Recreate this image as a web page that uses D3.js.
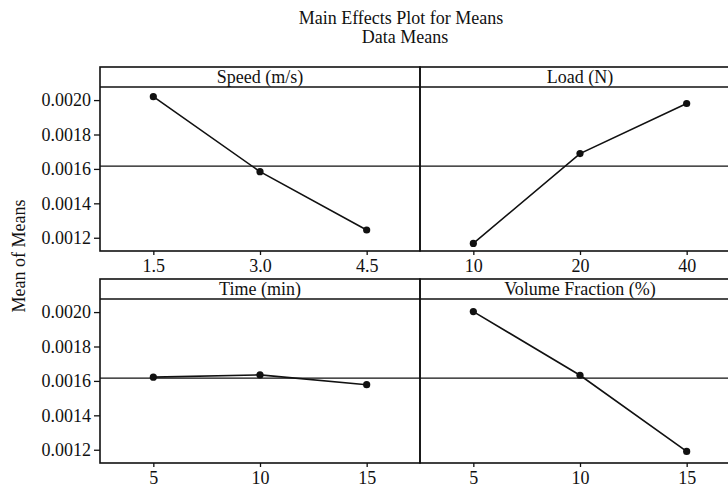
<!DOCTYPE html>
<html>
<head>
<meta charset="utf-8">
<script src="https://cdn.jsdelivr.net/npm/d3@7"></script>
<style>
  body { margin: 0; background: #fff; }
  svg text { font-family: "Liberation Serif", "Times New Roman", serif; fill: #111; }
</style>
</head>
<body>
<div id="chart"></div>
<script>
// data
var factors = ['Speed (m/s)', 'Load (N)', 'Time (min)', 'Volume Fraction (%)'];
var levels = [
	['1.5', '3.0', '4.5'],
	['10', '20', '40'],
	['5', '10', '15'],
	['5', '10', '15']
];
var means = [
	[0.002020, 0.001584, 0.001245],
	[0.001167, 0.001689, 0.001980],
	[0.001622, 0.001635, 0.001578],
	[0.002003, 0.001633, 0.001190]
];
var grandMean = 0.001616;
var yTicks = [0.0012, 0.0014, 0.0016, 0.0018, 0.0020];
var yDomain = [0.001123, 0.002076];

var W = 728, H = 488;
var left = 100, panelW = 320, stripH = 20, plotH = 164;
var rowTops = [67, 279];
var fs = '18px';

var svg = d3.select('#chart').append('svg').attr('width', W).attr('height', H);

svg.append('text').attr('x', 401).attr('y', 24).attr('text-anchor', 'middle')
	.style('font-size', fs).text('Main Effects Plot for Means');
svg.append('text').attr('x', 405).attr('y', 43).attr('text-anchor', 'middle')
	.style('font-size', fs).text('Data Means');

svg.append('text').attr('transform', 'translate(25,256) rotate(-90)')
	.attr('text-anchor', 'middle').style('font-size', fs).text('Mean of Means');

factors.forEach(function(name, i) {
	var col = i % 2, row = Math.floor(i / 2);
	var x0 = left + col * panelW, top = rowTops[row];
	var g = svg.append('g').attr('transform', 'translate(' + x0 + ',' + top + ')');

	var x = d3.scalePoint().domain(levels[i]).range([0, panelW]).padding(0.5);
	var y = d3.scaleLinear().domain(yDomain).range([stripH + plotH, stripH]);

	// strip + frame
	g.append('rect').attr('x', 0).attr('y', 0).attr('width', panelW).attr('height', stripH + plotH)
		.attr('fill', 'none').attr('stroke', '#111').attr('stroke-width', 1.6);
	g.append('line').attr('x1', 0).attr('x2', panelW).attr('y1', stripH).attr('y2', stripH)
		.attr('stroke', '#111').attr('stroke-width', 1.6);
	g.append('text').attr('x', panelW / 2).attr('y', 16).attr('text-anchor', 'middle')
		.style('font-size', fs).text(name);

	// reference line
	g.append('line').attr('x1', 0).attr('x2', panelW).attr('y1', y(grandMean)).attr('y2', y(grandMean))
		.attr('stroke', '#111').attr('stroke-width', 1.3);

	// x axis
	var xa = g.append('g').attr('transform', 'translate(0,' + (stripH + plotH) + ')')
		.call(d3.axisBottom(x).tickSize(4).tickPadding(4));
	xa.select('.domain').remove();
	xa.selectAll('line').attr('stroke', '#111').attr('stroke-width', 1.3);
	xa.selectAll('text').style('font-size', fs).style('font-family', '"Liberation Serif", serif').attr('fill', '#111');

	// y axis on left column only
	if (col === 0) {
		var ya = g.append('g').call(d3.axisLeft(y).tickValues(yTicks).tickSize(6).tickPadding(3)
			.tickFormat(d3.format('.4f')));
		ya.select('.domain').remove();
		ya.selectAll('line').attr('stroke', '#111').attr('stroke-width', 1.3);
		ya.selectAll('text').style('font-size', fs).style('font-family', '"Liberation Serif", serif').attr('fill', '#111');
	}

	var pts = levels[i].map(function(l, j) { return [x(l), y(means[i][j])]; });
	g.append('path').attr('d', d3.line()(pts)).attr('fill', 'none')
		.attr('stroke', '#111').attr('stroke-width', 1.6);
	g.selectAll('circle.pt').data(pts).enter().append('circle').attr('class', 'pt')
		.attr('cx', function(d) { return d[0]; }).attr('cy', function(d) { return d[1]; })
		.attr('r', 3.6).attr('fill', '#111');
});
</script>
</body>
</html>
